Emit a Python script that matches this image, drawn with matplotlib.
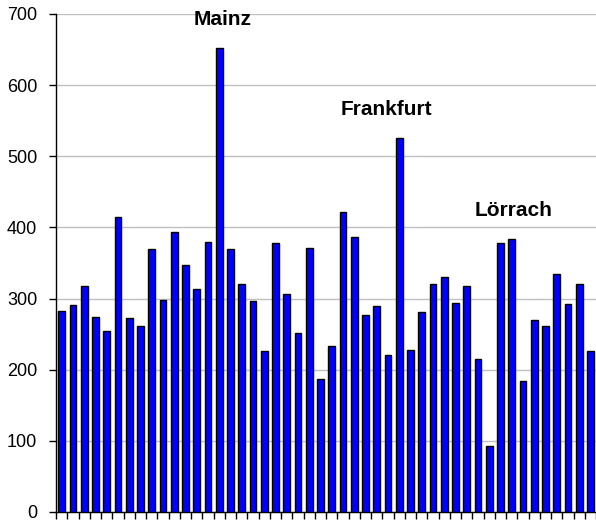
import numpy as np
import matplotlib.pyplot as plt

plt.rcParams['font.family'] = ['Liberation Sans', 'DejaVu Sans']

# Werte je Stadt (von links nach rechts)
values = [282, 291, 318, 274, 254, 415, 272, 261, 369, 298, 393, 347, 314, 380,
          652, 369, 320, 296, 226, 378, 307, 252, 371, 187, 233, 422, 387, 277,
          290, 220, 525, 228, 281, 320, 331, 294, 318, 215, 93, 378, 384, 184,
          270, 261, 334, 292, 320, 226]
labels = ['Mainz', 'Frankfurt', 'Lörrach']
label_x = [14.3, 28.9, 40.2]
label_y = [692, 566, 424]

x = np.arange(len(values))

fig = plt.figure(figsize=(5.96, 5.22), dpi=100)
ax = fig.add_axes([0.094, 0.0192, 0.906, 0.954])

ax.bar(x, values, width=0.6, color='#0000FF', edgecolor='black', linewidth=1.0, zorder=3)

for name, lx, ly in zip(labels, label_x, label_y):
    ax.text(lx, ly, name, ha='center', va='center', fontsize=15, fontweight='bold')

ax.set_ylim(0, 700)
ax.set_xlim(-0.5, len(values) - 0.5)
ax.set_yticks(np.arange(0, 701, 100))
ax.yaxis.grid(True, color='#c0c0c0', linewidth=1.0, zorder=0)
ax.tick_params(axis='y', labelsize=13, length=5, width=1, direction='out', pad=8.5)

ax.set_xticks(np.arange(-0.5, len(values), 1.0))
ax.set_xticklabels([])
ax.tick_params(axis='x', length=5, width=1, direction='out')

ax.spines['top'].set_visible(False)
ax.spines['right'].set_visible(False)
ax.spines['left'].set_linewidth(1.0)
ax.spines['bottom'].set_linewidth(1.0)

fig.savefig('out.png', dpi=100)
